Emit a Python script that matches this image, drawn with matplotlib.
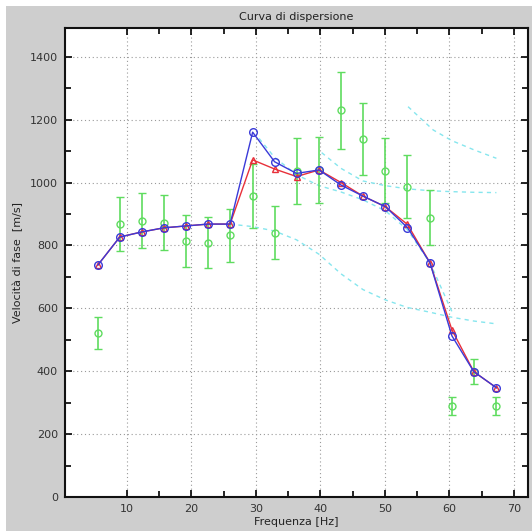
import numpy as np
import matplotlib
matplotlib.use('Agg')
import matplotlib.pyplot as plt
from matplotlib.patches import Rectangle
from matplotlib.ticker import MultipleLocator

# frequency grid (Hz)
freq = [5.5, 8.9, 12.3, 15.7, 19.1, 22.6, 26.0, 29.5, 32.9, 36.3,
        39.8, 43.2, 46.6, 50.1, 53.5, 57.0, 60.4, 63.8, 67.3]

# experimental phase velocity with uncertainty (m/s)
vel_exp = [522, 868, 879, 873, 815, 809, 832, 957, 841, 1037,
           1040, 1229, 1138, 1038, 987, 888, 291, 399, 290]
vel_err = [51, 85, 87, 87, 82, 80, 83, 103, 84, 105,
           105, 123, 115, 104, 99, 88, 29, 40, 29]

# theoretical curves
vel_blue = [738, 827, 843, 856, 862, 868, 868, 1160, 1066, 1029,
            1040, 992, 957, 923, 857, 745, 513, 399, 348]
vel_red = [738, 827, 843, 856, 862, 868, 868, 1072, 1043, 1019,
           1040, 1000, 957, 923, 867, 745, 532, 399, 348]

# modal curves (dashed cyan)
mode_a_f = [26.0, 29.5, 32.9, 36.3, 39.8, 43.2, 46.6, 50.1, 53.5, 57.0, 60.4, 63.8, 67.3]
mode_a_v = [868, 860, 846, 818, 772, 710, 660, 627, 603, 588, 572, 560, 551]
mode_b_f = [30.5, 32.9, 36.3, 39.8, 43.2, 46.6, 50.1, 53.5, 57.0, 60.4]
mode_b_v = [1140, 1080, 1025, 990, 970, 945, 910, 850, 745, 590]
mode_c_f = [40.2, 43.2, 46.6, 50.1, 53.5, 57.0, 60.4, 63.8, 67.3]
mode_c_v = [1095, 1045, 1005, 990, 980, 974, 971, 969, 968]
mode_d_f = [53.6, 57.5, 60.4, 63.8, 67.3]
mode_d_v = [1241, 1167, 1133, 1104, 1077]

fig = plt.figure(figsize=(5.32, 5.31), dpi=100)
fig.patch.set_facecolor('white')
fig.patches.append(Rectangle((6 / 532, 0), 1, 525 / 531, transform=fig.transFigure,
                             facecolor='#cecece', edgecolor='none', zorder=-10))

ax = fig.add_axes([65 / 532, 33.7 / 531, 463 / 532, 469 / 531])
ax.set_facecolor('white')

cyan = '#86e6ee'
for mf, mv in [(mode_a_f, mode_a_v), (mode_b_f, mode_b_v),
               (mode_c_f, mode_c_v), (mode_d_f, mode_d_v)]:
    ax.plot(mf, mv, '--', color=cyan, lw=1.0, dashes=(3, 3), zorder=2)

ax.errorbar(freq, vel_exp, yerr=vel_err, fmt='o', color='#5fdc5f', mfc='none',
            ms=5, mew=1.0, elinewidth=1.2, capsize=3, capthick=1.2, zorder=3)

ax.plot(freq, vel_red, '-^', color='#e8303a', mfc='none', ms=5, mew=1.0, lw=1.0, zorder=4)
ax.plot(freq, vel_blue, '-o', color='#3a3ad8', mfc='none', ms=5.5, mew=1.0, lw=1.0, zorder=5)

ax.set_xlim(0.4, 72.2)
ax.set_ylim(0, 1490)
ax.set_xticks([10, 20, 30, 40, 50, 60, 70])
ax.set_xticks([15, 25, 35, 45, 55, 65], minor=True)
ax.yaxis.set_major_locator(MultipleLocator(200))
ax.yaxis.set_minor_locator(MultipleLocator(100))
ax.tick_params(which='both', direction='in', top=True, right=True,
               labelsize=8, labelcolor='#333333', width=1.2, pad=5)
ax.tick_params(which='major', length=5)
ax.tick_params(which='minor', length=4)
for sp in ax.spines.values():
    sp.set_linewidth(1.5)
    sp.set_color('#111111')

ax.grid(True, which='major', linestyle=(0, (1, 2.5)), color='#9a9a9a', lw=0.8)

ax.set_title('Curva di dispersione', fontsize=8, color='#222222', pad=6)
ax.set_xlabel('Frequenza [Hz]', fontsize=8, color='#222222', labelpad=2)
ax.set_ylabel('Velocità di fase  [m/s]', fontsize=8, color='#222222', labelpad=5)

fig.savefig('out.png', dpi=100)
